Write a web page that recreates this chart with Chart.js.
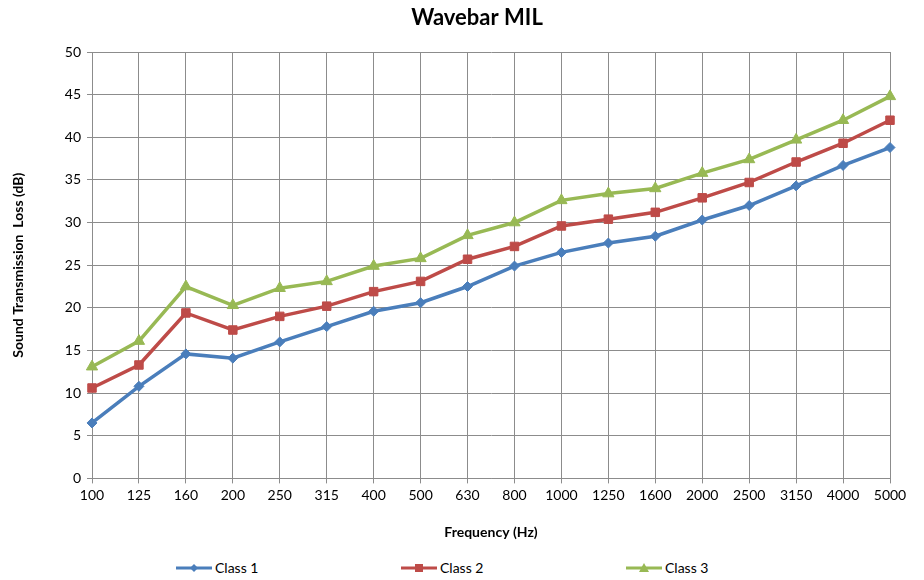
<!DOCTYPE html>
<html>
<head>
<meta charset="utf-8">
<script src="https://cdn.jsdelivr.net/npm/chart.js@4.4.1/dist/chart.umd.min.js"></script>
<style>
  html, body { margin: 0; padding: 0; background: #fff; }
  #wrap { position: relative; width: 924px; height: 580px; }
  #chart { position: absolute; left: 0; top: 0; }
  #legend { position: absolute; left: 175px; top: 559px; display: flex; font: 14px Lato, "Open Sans", sans-serif; color: #000; }
  #legend .item { width: 225px; display: flex; align-items: center; }
  #legend canvas { margin-right: 2px; }
</style>
</head>
<body>
<div id="wrap">
  <canvas id="chart" width="924" height="549"></canvas>
  <div id="legend"></div>
</div>
<script>
const frequencies = ['100','125','160','200','250','315','400','500','630','800','1000','1250','1600','2000','2500','3150','4000','5000'];
const class1 = [6.5, 10.8, 14.6, 14.1, 16.0, 17.8, 19.6, 20.6, 22.5, 24.9, 26.5, 27.6, 28.4, 30.3, 32.0, 34.3, 36.7, 38.8];
const class2 = [10.6, 13.3, 19.4, 17.4, 19.0, 20.2, 21.9, 23.1, 25.7, 27.2, 29.6, 30.4, 31.2, 32.9, 34.7, 37.1, 39.3, 42.0];
const class3 = [13.1, 16.1, 22.5, 20.3, 22.3, 23.1, 24.9, 25.8, 28.5, 30.0, 32.6, 33.4, 34.0, 35.8, 37.4, 39.7, 42.0, 44.8];

const FONT = 'Lato, "Open Sans", sans-serif';
const chartTitle = 'Wavebar MIL';

// small legend icon: line with the marker in the middle
function legendIcon(color, style) {
    const c = document.createElement('canvas');
    c.width = 38; c.height = 12;
    const ctx = c.getContext('2d');
    ctx.strokeStyle = color;
    ctx.fillStyle = color;
    ctx.lineWidth = 3;
    ctx.beginPath();
    ctx.moveTo(1, 6); ctx.lineTo(37, 6);
    ctx.stroke();
    ctx.beginPath();
    if (style === 'diamond') {
        ctx.moveTo(19, 2); ctx.lineTo(23, 6); ctx.lineTo(19, 10); ctx.lineTo(15, 6);
    } else if (style === 'square') {
        ctx.rect(15, 2, 8, 8);
    } else {
        ctx.moveTo(19, 1); ctx.lineTo(24, 10); ctx.lineTo(14, 10);
    }
    ctx.closePath();
    ctx.fill();
    return c;
}

const series = [
    { label: 'Class 1', data: class1, color: '#4a7ebb', marker: 'rectRot', radius: 5, icon: 'diamond' },
    { label: 'Class 2', data: class2, color: '#be4b48', marker: 'rect', radius: 6, icon: 'square' },
    { label: 'Class 3', data: class3, color: '#98b954', marker: 'triangle', radius: 6.5, icon: 'triangle' }
];

const legend = document.getElementById('legend');
series.forEach(s => {
    const item = document.createElement('div');
    item.className = 'item';
    item.appendChild(legendIcon(s.color, s.icon));
    const span = document.createElement('span');
    span.innerText = s.label;
    item.appendChild(span);
    legend.appendChild(item);
});

// title drawn centred where Excel put it
const titlePlugin = {
    id: 'excelTitle',
    afterDraw(chart) {
        const ctx = chart.ctx;
        ctx.save();
        ctx.font = 'bold 22px ' + FONT;
        ctx.fillStyle = '#000';
        ctx.textAlign = 'center';
        ctx.textBaseline = 'middle';
        ctx.fillText(chartTitle, 477, 18);
        ctx.restore();
    }
};

new Chart(document.getElementById('chart'), {
    type: 'line',
    data: {
        labels: frequencies,
        datasets: series.map(s => ({
            label: s.label,
            data: s.data,
            borderColor: s.color,
            backgroundColor: s.color,
            borderWidth: 3.5,
            pointStyle: s.marker,
            pointRadius: s.radius,
            pointBorderWidth: 1,
            tension: 0
        }))
    },
    plugins: [titlePlugin],
    options: {
        responsive: false,
        animation: false,
        layout: { padding: { left: 6, right: 34, top: 52, bottom: 4 } },
        plugins: {
            title: { display: false },
            legend: { display: false },
            tooltip: { enabled: false }
        },
        scales: {
            x: {
                offset: false,
                grid: { color: '#8c8c8c', lineWidth: 1, drawTicks: true, tickLength: 5 },
                border: { color: '#8c8c8c' },
                ticks: { font: { family: FONT, size: 14 }, color: '#000', maxRotation: 0, autoSkip: false, padding: 4 },
                title: {
                    display: true,
                    text: 'Frequency (Hz)',
                    font: { family: FONT, size: 14, weight: 'bold' },
                    color: '#000',
                    padding: { top: 16, bottom: 4 }
                }
            },
            y: {
                min: 0,
                max: 50,
                grid: { color: '#8c8c8c', lineWidth: 1, tickLength: 5 },
                border: { color: '#8c8c8c' },
                ticks: { stepSize: 5, font: { family: FONT, size: 14 }, color: '#000', padding: 6 },
                title: {
                    display: true,
                    text: 'Sound Transmission  Loss (dB)',
                    font: { family: FONT, size: 14, weight: 'bold' },
                    color: '#000',
                    padding: { bottom: 22 }
                },
                afterFit: axis => { axis.width = 86; }
            }
        }
    }
});
</script>
</body>
</html>
